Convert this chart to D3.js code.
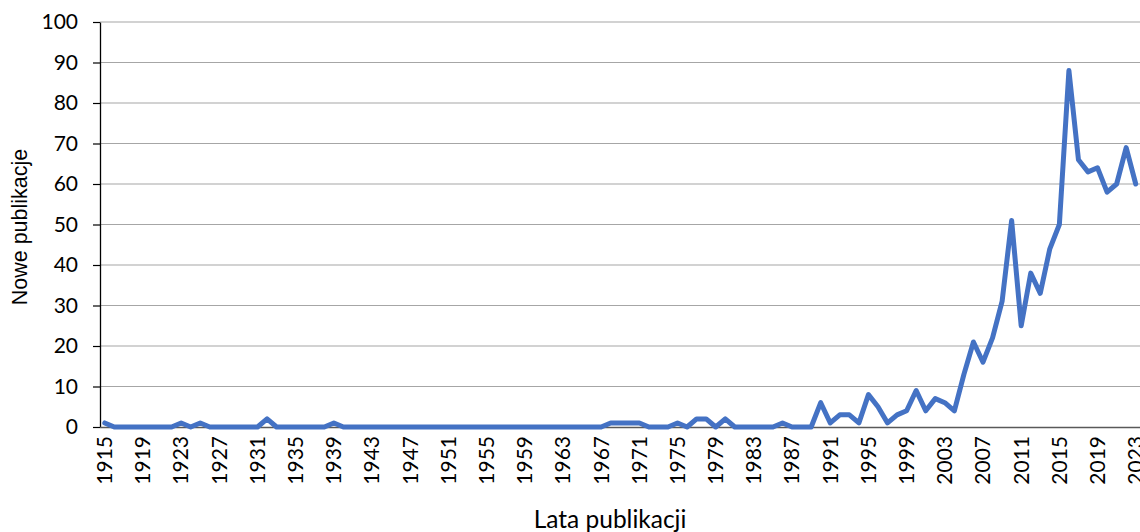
<!DOCTYPE html>
<html>
<head>
<meta charset="utf-8">
<script src="https://cdn.jsdelivr.net/npm/d3@7"></script>
<style>
  html, body { margin: 0; padding: 0; background: #fff; }
  svg { display: block; }
</style>
</head>
<body>
<svg id="chart" width="1140" height="532"></svg>
<script>
const years = d3.range(1915, 2024);
const values = [
  1, 0, 0, 0, 0, 0, 0, 0, 1, 0,   // 1915-1924
  1, 0, 0, 0, 0, 0, 0, 2, 0, 0,   // 1925-1934
  0, 0, 0, 0, 1, 0, 0, 0, 0, 0,   // 1935-1944
  0, 0, 0, 0, 0, 0, 0, 0, 0, 0,   // 1945-1954
  0, 0, 0, 0, 0, 0, 0, 0, 0, 0,   // 1955-1964
  0, 0, 0, 1, 1, 1, 1, 0, 0, 0,   // 1965-1974
  1, 0, 2, 2, 0, 2, 0, 0, 0, 0,   // 1975-1984
  0, 1, 0, 0, 0, 6, 1, 3, 3, 1,   // 1985-1994
  8, 5, 1, 3, 4, 9, 4, 7, 6, 4,   // 1995-2004
  13, 21, 16, 22, 31, 51, 25, 38, 33, 44, // 2005-2014
  50, 88, 66, 63, 64, 58, 60, 69, 60      // 2015-2023
];
const yTicks = [0, 10, 20, 30, 40, 50, 60, 70, 80, 90, 100];
const xTickYears = years.filter(y => (y - 1915) % 4 === 0);
const yTitle = "Nowe publikacje";
const xTitle = "Lata publikacji";

const data = years.map((yr, i) => ({ year: yr, value: values[i] }));

const svg = d3.select("#chart");
const mLeft = 100, mRight = 1140, mTop = 22, mBottom = 427;

const x = d3.scaleBand().domain(years).range([mLeft, mRight + 0.5]);
const y = d3.scaleLinear().domain([0, 100]).range([mBottom, mTop]);

const tickFont = "Lato, 'Open Sans', sans-serif";

// gridlines
svg.append("g")
  .selectAll("line")
  .data(yTicks.filter(t => t > 0))
  .join("line")
  .attr("x1", mLeft).attr("x2", 1140)
  .attr("y1", d => y(d)).attr("y2", d => y(d))
  .attr("stroke", "#a6a6a6").attr("stroke-width", 1.2);

// y axis
const yAxis = svg.append("g")
  .attr("transform", `translate(${mLeft},0)`)
  .call(d3.axisLeft(y).tickValues(yTicks).tickSize(7).tickPadding(15).tickSizeOuter(0));
yAxis.select(".domain").attr("stroke", "#000").attr("stroke-width", 1.3);
yAxis.selectAll(".tick line").attr("stroke", "#000").attr("stroke-width", 1.2);
yAxis.selectAll("text")
  .attr("font-family", tickFont).attr("font-size", 21).attr("fill", "#000");

// x axis
const xAxis = svg.append("g")
  .attr("transform", `translate(0,${mBottom})`)
  .call(d3.axisBottom(x).tickValues(xTickYears).tickSize(0).tickSizeOuter(0));
xAxis.select(".domain").attr("stroke", "#595959").attr("stroke-width", 1.3)
  .attr("d", `M${mLeft},0.5H1140`);
xAxis.selectAll("text")
  .attr("font-family", tickFont).attr("font-size", 21).attr("fill", "#000")
  .attr("transform", "rotate(-90)")
  .attr("text-anchor", "end")
  .attr("x", -9)
  .attr("y", 0)
  .attr("dy", "0.35em");

// line
const line = d3.line()
  .x(d => x(d.year) + x.bandwidth() / 2)
  .y(d => y(d.value));

svg.append("path")
  .datum(data)
  .attr("fill", "none")
  .attr("stroke", "#4472c4")
  .attr("stroke-width", 5)
  .attr("stroke-linejoin", "round")
  .attr("stroke-linecap", "round")
  .attr("d", line);

// titles
svg.append("text")
  .attr("transform", `translate(27,227) rotate(-90)`)
  .attr("text-anchor", "middle")
  .attr("font-family", "'Liberation Sans', Arial, sans-serif")
  .attr("font-size", 21.5)
  .attr("fill", "#000")
  .text(yTitle);

svg.append("text")
  .attr("x", 610).attr("y", 528)
  .attr("text-anchor", "middle")
  .attr("font-family", tickFont)
  .attr("font-size", 24.5)
  .attr("fill", "#000")
  .text(xTitle);
</script>
</body>
</html>
